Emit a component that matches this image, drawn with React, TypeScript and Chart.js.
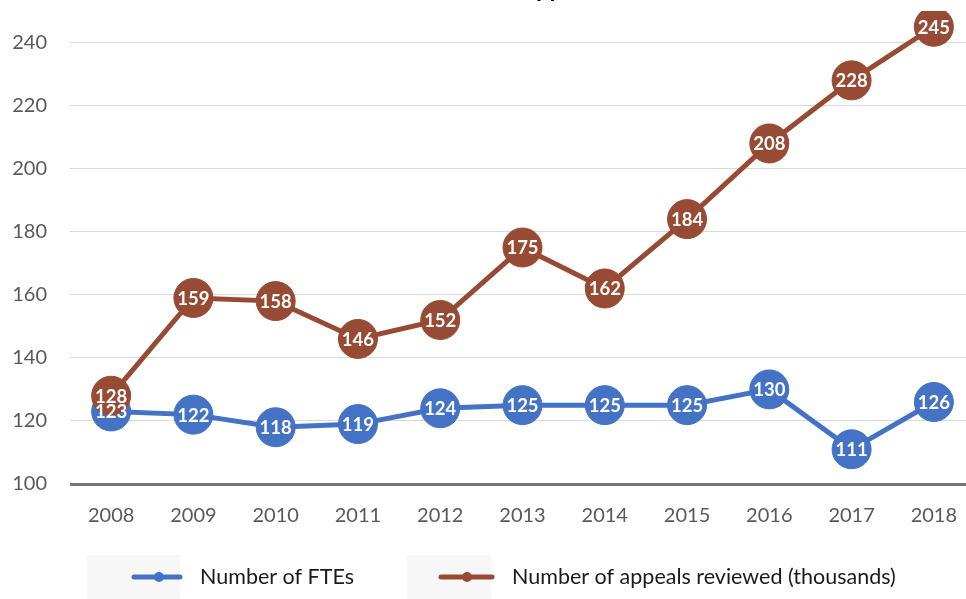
import React, { useEffect, useRef } from "react";
import { Chart, registerables } from "chart.js";

Chart.register(...registerables);

const years = ["2008", "2009", "2010", "2011", "2012", "2013", "2014", "2015", "2016", "2017", "2018"];
const ftes = [123, 122, 118, 119, 124, 125, 125, 125, 130, 111, 126];
const appeals = [128, 159, 158, 146, 152, 175, 162, 184, 208, 228, 245];
const seriesNames = ["Number of FTEs", "Number of appeals reviewed (thousands)"];
const titleText = "Number of FTEs and Appeals Reviewed";

const BLUE = "#4472C4";
const BROWN = "#974A34";
const W = 1000;
const H = 640;
const TOP = 40; // canvas is shifted up by this amount (cropped view)

const labelPlugin = {
  id: "pointLabels",
  afterDatasetsDraw(chart: any) {
    const ctx = chart.ctx;
    ctx.save();
    ctx.font = "bold 18.5px Lato";
    ctx.fillStyle = "#ffffff";
    ctx.textAlign = "center";
    ctx.textBaseline = "middle";
    [1, 0].forEach((di) => {
      const meta = chart.getDatasetMeta(di);
      const ds = chart.data.datasets[di];
      meta.data.forEach((el: any, i: number) => {
        ctx.fillText(String(ds.data[i]), el.x, el.y + 1);
      });
    });
    ctx.restore();
  },
};

const decorPlugin = {
  id: "decor",
  afterDraw(chart: any) {
    const ctx = chart.ctx;
    ctx.save();
    // title (mostly cropped off the top)
    ctx.font = "bold 24px Lato";
    ctx.fillStyle = "#000000";
    ctx.textBaseline = "alphabetic";
    ctx.textAlign = "left";
    const idx = titleText.indexOf("pp");
    const pre = ctx.measureText(titleText.slice(0, idx)).width;
    ctx.fillText(titleText, 536 - pre, TOP - 3);

    // legend
    const cy = 577 + TOP;
    const items = [
      { color: BLUE, box: [87, 180], line: [134, 180], mk: 159, tx: 200 },
      { color: BROWN, box: [407, 491], line: [441, 492], mk: 467, tx: 512 },
    ];
    items.forEach((it, i) => {
      ctx.fillStyle = "#f7f7f7";
      ctx.fillRect(it.box[0], 555 + TOP, it.box[1] - it.box[0], 60);
      ctx.strokeStyle = it.color;
      ctx.lineWidth = 5;
      ctx.lineCap = "round";
      ctx.beginPath();
      ctx.moveTo(it.line[0], cy);
      ctx.lineTo(it.line[1], cy);
      ctx.stroke();
      ctx.fillStyle = it.color;
      ctx.beginPath();
      ctx.arc(it.mk, cy, 5, 0, Math.PI * 2);
      ctx.fill();
      ctx.fillStyle = "#1a1a1a";
      ctx.font = "21.5px Lato";
      ctx.textBaseline = "middle";
      ctx.fillText(seriesNames[i], it.tx, cy);
    });
    ctx.restore();
  },
};

export default function App() {
  const ref = useRef<HTMLCanvasElement>(null);
  useEffect(() => {
    if (!ref.current) return;
    const chart = new Chart(ref.current, {
      type: "line",
      data: {
        labels: years,
        datasets: [
          {
            label: seriesNames[0],
            data: ftes,
            borderColor: BLUE,
            backgroundColor: BLUE,
            pointBackgroundColor: BLUE,
            pointBorderColor: BLUE,
            borderWidth: 5,
            pointRadius: 19.5,
            pointBorderWidth: 1,
            pointHoverRadius: 19.5,
            tension: 0,
            order: 1,
          },
          {
            label: seriesNames[1],
            data: appeals,
            borderColor: BROWN,
            backgroundColor: BROWN,
            pointBackgroundColor: BROWN,
            pointBorderColor: BROWN,
            borderWidth: 5,
            pointRadius: 19.5,
            pointBorderWidth: 1,
            pointHoverRadius: 19.5,
            tension: 0,
            order: 0,
          },
        ],
      },
      options: {
        responsive: false,
        animation: false,
        events: [],
        layout: { padding: { top: 51, left: 0, right: 25, bottom: 76 } },
        plugins: { legend: { display: false }, title: { display: false }, tooltip: { enabled: false } },
        scales: {
          x: {
            offset: true,
            grid: { display: false, drawTicks: false },
            border: { display: false },
            ticks: { color: "#595959", font: { family: "Lato", size: 20 }, padding: 20 },
            afterFit: (s: any) => {
              s.height = 40;
            },
          },
          y: {
            min: 100,
            max: 250,
            ticks: {
              stepSize: 20,
              color: "#595959",
              font: { family: "Lato", size: 20 },
              padding: 23,
            },
            afterBuildTicks: (s: any) => {
              s.ticks = s.ticks.filter((t: any) => t.value !== 250);
            },
            afterFit: (s: any) => {
              s.width = 70;
            },
            border: { display: false },
            grid: {
              drawTicks: false,
              color: (c: any) => (c.tick && c.tick.value === 100 ? "#767676" : "#d9d9d9"),
              lineWidth: (c: any) => (c.tick && c.tick.value === 100 ? 3 : 1),
            },
          },
        },
      },
      plugins: [labelPlugin, decorPlugin],
    });
    return () => chart.destroy();
  }, []);
  return (
    <div style={{ position: "absolute", left: 0, top: -TOP, width: W, height: H }}>
      <canvas ref={ref} width={W} height={H} style={{ width: W, height: H, display: "block" }} />
    </div>
  );
}
